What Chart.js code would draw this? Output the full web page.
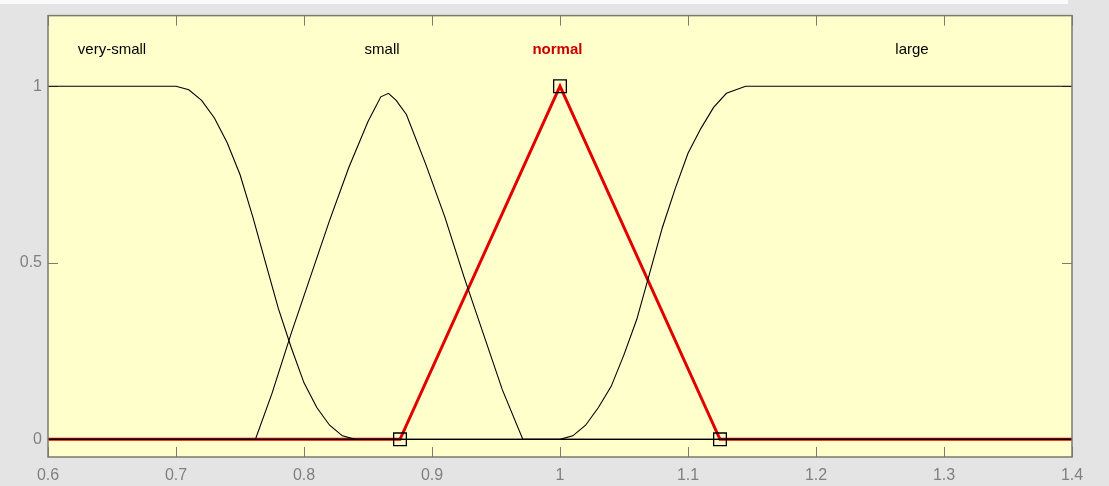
<!DOCTYPE html>
<html>
<head>
<meta charset="utf-8">
<script src="https://cdn.jsdelivr.net/npm/chart.js@4/dist/chart.umd.min.js"></script>
<style>
  html, body { margin:0; padding:0; background:#e4e4e4; }
  #topband { position:absolute; left:0; top:0; width:1068px; height:4px; background:#fafafa; }
  canvas { position:absolute; left:0; top:0; }
</style>
</head>
<body>
<div id="topband"></div>
<canvas id="mfChart" width="1109" height="486"></canvas>
<script>
// -------- data --------
const xTicks = [0.6, 0.7, 0.8, 0.9, 1.0, 1.1, 1.2, 1.3, 1.4];
const yTicks = [0, 0.5, 1];
const mfNames = ['very-small', 'small', 'normal', 'large'];
const mfLabelX = [0.65, 0.861, 0.998, 1.275];

const verySmallX = [0.6, 0.7, 0.71, 0.72, 0.73, 0.74, 0.75, 0.76, 0.77, 0.78, 0.79, 0.80, 0.81, 0.82, 0.83, 0.84, 1.4];
const verySmallY = [1, 1, 0.99, 0.96, 0.91, 0.84, 0.75, 0.63, 0.50, 0.37, 0.26, 0.16, 0.09, 0.04, 0.01, 0, 0];

const smallX = [0.6, 0.762, 0.775, 0.79, 0.805, 0.82, 0.835, 0.85, 0.86, 0.866, 0.872, 0.88, 0.895, 0.91, 0.925, 0.94, 0.955, 0.971, 1.4];
const smallY = [0, 0, 0.13, 0.30, 0.46, 0.62, 0.77, 0.90, 0.97, 0.98, 0.96, 0.92, 0.78, 0.63, 0.46, 0.30, 0.14, 0, 0];

const normalX = [0.6, 0.875, 1.0, 1.125, 1.4];
const normalY = [0, 0, 1, 0, 0];

const largeX = [0.6, 1.0, 1.01, 1.02, 1.03, 1.04, 1.05, 1.06, 1.07, 1.08, 1.09, 1.10, 1.11, 1.12, 1.13, 1.145, 1.4];
const largeY = [0, 0, 0.01, 0.04, 0.09, 0.15, 0.24, 0.34, 0.47, 0.60, 0.71, 0.81, 0.88, 0.94, 0.98, 1, 1];

const vertexX = [0.875, 1.0, 1.125];
const vertexY = [0, 1, 0];

const pts = (xs, ys) => xs.map((x, i) => ({x: x, y: ys[i]}));
const FONT = '"Liberation Sans", Arial, sans-serif';

// -------- plot area dressing --------
const frame = {
    id: 'frame',
    beforeDatasetsDraw(chart){
        const {ctx, chartArea: a, scales} = chart;
        ctx.save();
        ctx.fillStyle = '#ffffcc';
        ctx.fillRect(a.left, a.top, a.right - a.left, a.bottom - a.top);
        // inward ticks, under the curves
        ctx.strokeStyle = '#7a7a6e';
        ctx.lineWidth = 1;
        ctx.beginPath();
        xTicks.forEach(v => {
            const px = Math.round(scales.x.getPixelForValue(v)) + 0.5;
            ctx.moveTo(px, a.bottom); ctx.lineTo(px, a.bottom - 10);
            ctx.moveTo(px, a.top); ctx.lineTo(px, a.top + 10);
        });
        yTicks.forEach(v => {
            const py = Math.round(scales.y.getPixelForValue(v)) + 0.5;
            ctx.moveTo(a.left, py); ctx.lineTo(a.left + 10, py);
            ctx.moveTo(a.right, py); ctx.lineTo(a.right - 10, py);
        });
        ctx.stroke();
        ctx.restore();
    },
    afterDatasetsDraw(chart){
        const {ctx, chartArea: a, scales} = chart;
        ctx.save();
        ctx.strokeStyle = '#7a7a6e';
        ctx.lineWidth = 1.5;
        ctx.strokeRect(a.left, a.top, a.right - a.left, a.bottom - a.top);

        // membership function names
        ctx.textAlign = 'center';
        ctx.textBaseline = 'middle';
        const ly = scales.y.getPixelForValue(1.102);
        mfNames.forEach((name, i) => {
            const lx = scales.x.getPixelForValue(mfLabelX[i]);
            if(name === 'normal'){
                ctx.font = 'bold 15px ' + FONT;
                ctx.fillStyle = '#c80000';
            } else {
                ctx.font = '15px ' + FONT;
                ctx.fillStyle = '#000000';
            }
            ctx.fillText(name, lx, ly);
        });
        ctx.restore();
    }
};

const lineDefaults = { showLine:true, pointRadius:0, fill:false, tension:0 };

new Chart(document.getElementById('mfChart'), {
    type: 'scatter',
    data: {
        datasets: [
            { ...lineDefaults, label:'normal', data: pts(normalX, normalY), borderColor:'#e00000', borderWidth:3, order:3 },
            { ...lineDefaults, label:'very-small', data: pts(verySmallX, verySmallY), borderColor:'#000000', borderWidth:1.1, order:2 },
            { ...lineDefaults, label:'small', data: pts(smallX, smallY), borderColor:'#000000', borderWidth:1.1, order:2 },
            { ...lineDefaults, label:'large', data: pts(largeX, largeY), borderColor:'#000000', borderWidth:1.1, order:2 },
            { label:'vertices', data: pts(vertexX, vertexY), showLine:false, pointStyle:'rect',
              pointRadius:9, pointBackgroundColor:'rgba(0,0,0,0)', pointBorderColor:'#000000', pointBorderWidth:1.3, order:1 }
        ]
    },
    options: {
        responsive: false,
        animation: false,
        layout: { padding: { left:0, right:37, top:15, bottom:0 } },
        plugins: { legend:{ display:false }, tooltip:{ enabled:false } },
        scales: {
            x: {
                type:'linear', min:0.6, max:1.4,
                afterBuildTicks: s => { s.ticks = xTicks.map(v => ({value:v})); },
                afterFit: s => { s.height = 29; },
                grid: { display:false, drawTicks:false },
                border: { display:false },
                ticks: { color:'#808080', padding:9, maxRotation:0,
                         font:{ family:FONT, size:16 },
                         callback: v => String(Math.round(v * 10) / 10) }
            },
            y: {
                type:'linear', min:-0.05, max:1.2,
                afterBuildTicks: s => { s.ticks = yTicks.map(v => ({value:v})); },
                afterFit: s => { s.width = 48; },
                grid: { display:false, drawTicks:false },
                border: { display:false },
                ticks: { color:'#808080', padding:6,
                         font:{ family:FONT, size:16 },
                         callback: v => String(v) }
            }
        }
    },
    plugins: [frame]
});
</script>
</body>
</html>
